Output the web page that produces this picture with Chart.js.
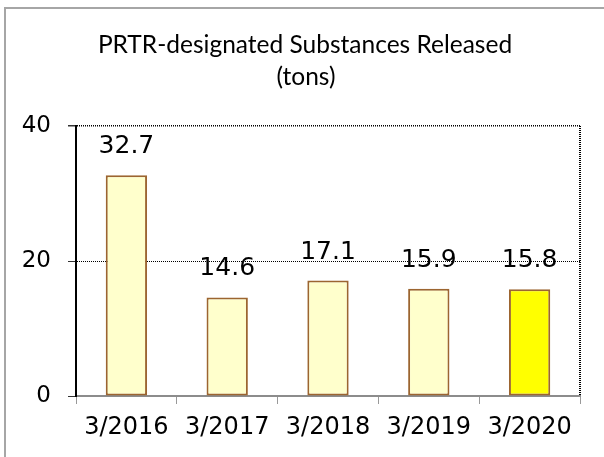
<!DOCTYPE html>
<html>
<head>
<meta charset="utf-8">
<script src="https://cdn.jsdelivr.net/npm/chart.js@4"></script>
<style>
    html, body { margin: 0; padding: 0; background: #fff; }
    #wrap { width: 604px; height: 457px; }
</style>
</head>
<body>
<div id="wrap"><canvas id="prtrChart" width="604" height="457"></canvas></div>
<script>
// data
const years = ['3/2016', '3/2017', '3/2018', '3/2019', '3/2020'];
const released = [32.7, 14.6, 17.1, 15.9, 15.8];
const barColors = ['#FFFFCC', '#FFFFCC', '#FFFFCC', '#FFFFCC', '#FFFF00'];
const yTicks = [0, 20, 40];
const titleLines = ['PRTR-designated Substances Released', '(tons)'];

// outer frame, title, dotted right border and value labels
const decorations = {
    id: 'decorations',
    beforeDraw(chart) {
        const ctx = chart.ctx;
        ctx.save();
        ctx.strokeStyle = '#A6A6A6';
        ctx.lineWidth = 2;
        ctx.strokeRect(5, 8, 800, 800);
        ctx.restore();
    },
    afterDraw(chart) {
        const ctx = chart.ctx;
        const area = chart.chartArea;
        ctx.save();
        // title
        ctx.fillStyle = '#000';
        ctx.font = '24.5px Lato, "Open Sans", sans-serif';
        ctx.textAlign = 'center';
        ctx.textBaseline = 'alphabetic';
        ctx.fillText(titleLines[0], 305, 53);
        ctx.fillText(titleLines[1], 306, 85);

        // right border of the plot area
        ctx.strokeStyle = '#000';
        ctx.lineWidth = 2;
        ctx.setLineDash([1, 1]);
        ctx.beginPath();
        ctx.moveTo(area.right, area.top);
        ctx.lineTo(area.right, area.bottom);
        ctx.stroke();
        ctx.setLineDash([]);

        // value labels
        ctx.font = '25px "DejaVu Sans", Verdana, sans-serif';
        ctx.textAlign = 'center';
        const meta = chart.getDatasetMeta(0);
        meta.data.forEach(function (bar, i) {
            ctx.fillText(released[i].toFixed(1), bar.x, bar.y - 22);
        });
        ctx.restore();
    }
};

const ctx = document.getElementById('prtrChart').getContext('2d');
const prtrChart = new Chart(ctx, {
    type: 'bar',
    data: {
        labels: years,
        datasets: [{
            data: released,
            backgroundColor: barColors,
            borderColor: '#9C6530',
            borderWidth: 2,
            borderSkipped: false,
            barPercentage: 0.41,
            categoryPercentage: 1
        }]
    },
    options: {
        responsive: false,
        animation: false,
        layout: { padding: { left: 0, top: 126, right: 24, bottom: 0 } },
        plugins: {
            legend: { display: false },
            title: { display: false },
            tooltip: { enabled: false }
        },
        scales: {
            x: {
                afterFit: function (scale) { scale.height = 61; },
                grid: {
                    offset: true,
                    drawOnChartArea: false,
                    tickLength: 8,
                    tickColor: '#999'
                },
                border: { color: '#8C8C8C', dash: [1, 1], width: 2 },
                ticks: {
                    color: '#000',
                    padding: 9,
                    font: { family: '"DejaVu Sans", Verdana, sans-serif', size: 24 },
                    maxRotation: 0
                }
            },
            y: {
                min: 0,
                max: 40,
                afterFit: function (scale) { scale.width = 76; },
                afterBuildTicks: function (scale) {
                    scale.ticks = yTicks.map(v => ({ value: v }));
                },
                grid: {
                    color: function (c) { return c.tick && c.tick.value === 0 ? 'rgba(0,0,0,0)' : '#000'; },
                    lineWidth: function (c) { return c.tick && c.tick.value === 40 ? 1.5 : 1; },
                    tickColor: '#333',
                    tickLength: 8,
                    tickBorderDash: [],
                    borderDash: [1, 1]
                },
                border: { color: '#000', dash: [1, 1], width: 2 },
                ticks: {
                    color: '#000',
                    padding: 17,
                    font: { family: '"DejaVu Sans", Verdana, sans-serif', size: 23 }
                }
            }
        }
    },
    plugins: [decorations]
});
</script>
</body>
</html>
